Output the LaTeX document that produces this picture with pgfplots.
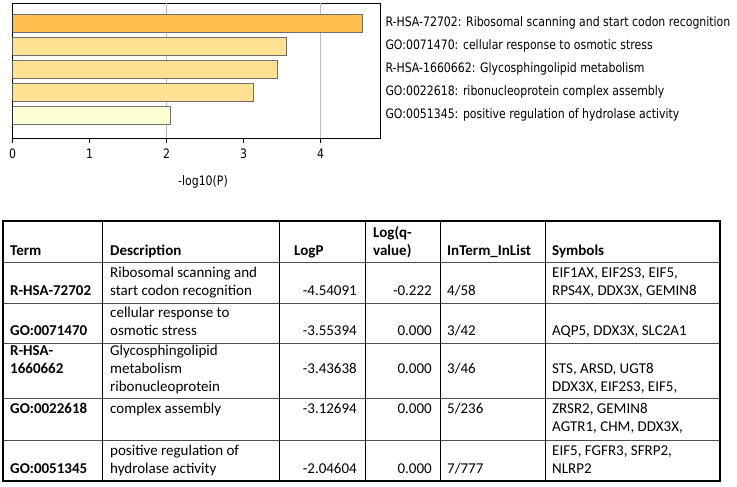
\documentclass[border=0pt]{standalone}
\usepackage{pgfplots}
\pgfplotsset{compat=1.18}
\usepackage{fontspec}
\setmainfont{Carlito}
\newfontfamily\chartfont[FakeStretch=0.84]{DejaVu Sans}
\definecolor{barA}{RGB}{254,192,76}
\definecolor{barB}{RGB}{254,226,148}
\definecolor{barC}{RGB}{255,255,214}
\definecolor{barEdge}{RGB}{110,110,110}
\definecolor{gridc}{RGB}{185,185,185}
\newcommand\cf{\chartfont\fontsize{13}{15}\selectfont}
\newcommand\tf{\fontsize{15}{18}\selectfont}
\begin{document}
\begin{tikzpicture}
\useasboundingbox (0,0) rectangle (737pt,-487pt);
\begin{axis}[
  at={(12.7pt,-138pt)}, anchor=south west,
  scale only axis, width=367.3pt, height=135pt,
  xbar, bar width=18pt, bar shift=0pt,
  xmin=0, xmax=4.77, ymin=0, ymax=5.87,
  xtick={0,1,2,3,4}, xtick pos=bottom, xtick align=outside,
  major tick length=5pt,
  tick style={black, line width=0.8pt},
  ytick={1,2,3,4,5}, yticklabel pos=right,
  ytick style={draw=none},
  yticklabels={GO:0051345: positive regulation of hydrolase activity,
               GO:0022618: ribonucleoprotein complex assembly,
               R-HSA-1660662: Glycosphingolipid metabolism,
               GO:0071470: cellular response to osmotic stress,
               R-HSA-72702: Ribosomal scanning and start codon recognition},
  yticklabel style={font=\cf, anchor=west, xshift=-3pt},
  xticklabel style={font=\cf, yshift=-2pt},
  /pgf/number format/assume math mode=true,
  extra x ticks={2,4}, extra x tick labels={},
  extra x tick style={grid=major, major grid style={gridc, line width=1pt}},
  axis line style={black, line width=0.8pt},
]
\addplot[fill=barA, draw=barEdge, line width=0.8pt] coordinates {(4.54091,5)};
\addplot[fill=barB, draw=barEdge, line width=0.8pt] coordinates {(3.55394,4) (3.43638,3) (3.12694,2)};
\addplot[fill=barC, draw=barEdge, line width=0.8pt] coordinates {(2.04604,1)};
\end{axis}
\node[anchor=base, font=\cf] at (203pt,-185pt) {-log10(P)};
\begin{scope}[x=1pt,y=1pt]
\foreach \y in {262,303,343,398,440} \draw[line width=0.8pt, black!70] (3,-\y) -- (720,-\y);
\foreach \x in {102,279,365,440,545} \draw[line width=1pt] (\x,-221) -- (\x,-481);
\draw[line width=1.1pt] (3,-221) rectangle (720,-481);
\tikzset{L/.style={anchor=base west, inner sep=0pt, font=\tf},
         R/.style={anchor=base east, inner sep=0pt, font=\tf},
         B/.style={anchor=base west, inner sep=0pt, font=\tf\bfseries}}
% header
\node[B] at (10,-255) {Term};
\node[B] at (110,-255) {Description};
\node[B] at (294,-255) {LogP};
\node[B] at (373,-237) {Log(q-};
\node[B] at (373,-255) {value)};
\node[B] at (447,-255) {InTerm\_InList};
\node[B] at (552,-255) {Symbols};
% row 1
\node[B] at (10,-295) {R-HSA-72702};
\node[L] at (110,-277) {Ribosomal scanning and};
\node[L] at (110,-295) {start codon recognition};
\node[R] at (357,-295) {-4.54091};
\node[R] at (432,-295) {-0.222};
\node[L] at (447,-295) {4/58};
\node[L] at (552,-277) {EIF1AX, EIF2S3, EIF5,};
\node[L] at (552,-295) {RPS4X, DDX3X, GEMIN8};
% row 2
\node[B] at (10,-335) {GO:0071470};
\node[L] at (110,-317) {cellular response to};
\node[L] at (110,-335) {osmotic stress};
\node[R] at (357,-335) {-3.55394};
\node[R] at (432,-335) {0.000};
\node[L] at (447,-335) {3/42};
\node[L] at (552,-335) {AQP5, DDX3X, SLC2A1};
% row 3
\node[B] at (10,-355) {R-HSA-};
\node[B] at (10,-373) {1660662};
\node[L] at (110,-355) {Glycosphingolipid};
\node[L] at (110,-373) {metabolism};
\node[L] at (110,-391) {ribonucleoprotein};
\node[R] at (357,-373) {-3.43638};
\node[R] at (432,-373) {0.000};
\node[L] at (447,-373) {3/46};
\node[L] at (552,-373) {STS, ARSD, UGT8};
\node[L] at (552,-391) {DDX3X, EIF2S3, EIF5,};
% row 4
\node[B] at (10,-413) {GO:0022618};
\node[L] at (110,-413) {complex assembly};
\node[R] at (357,-413) {-3.12694};
\node[R] at (432,-413) {0.000};
\node[L] at (447,-413) {5/236};
\node[L] at (552,-413) {ZRSR2, GEMIN8};
\node[L] at (552,-431) {AGTR1, CHM, DDX3X,};
% row 5
\node[L] at (110,-455) {positive regulation of};
\node[L] at (552,-455) {EIF5, FGFR3, SFRP2,};
\node[B] at (10,-473) {GO:0051345};
\node[L] at (110,-473) {hydrolase activity};
\node[R] at (357,-473) {-2.04604};
\node[R] at (432,-473) {0.000};
\node[L] at (447,-473) {7/777};
\node[L] at (552,-473) {NLRP2};
\end{scope}
\end{tikzpicture}
\end{document}
